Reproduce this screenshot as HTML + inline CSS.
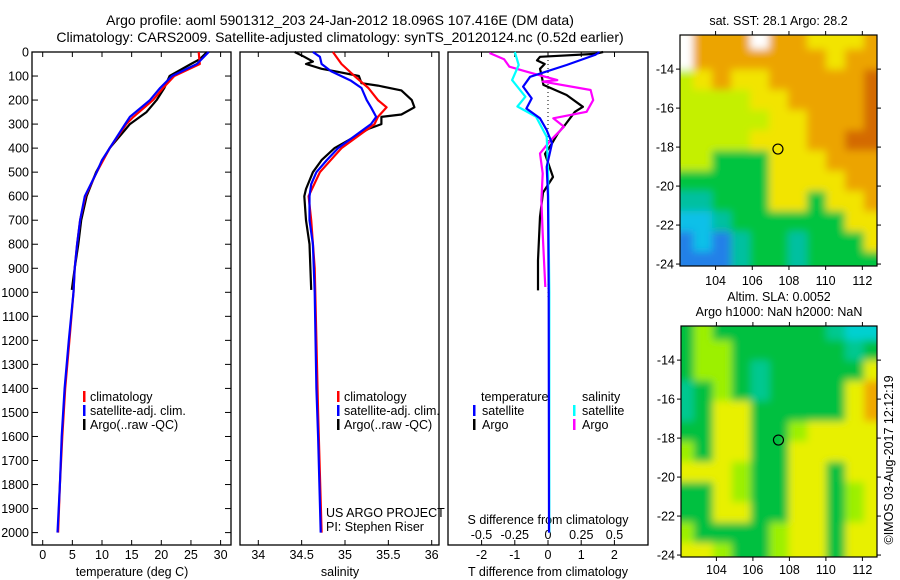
<!DOCTYPE html>
<html><head><meta charset="utf-8">
<style>
html,body{margin:0;padding:0;background:#fff;}
svg{display:block;font-family:"Liberation Sans",sans-serif;}
text{font-size:12.5px;fill:#000;}
</style></head><body>
<svg id="chart" width="900" height="580" viewBox="0 0 900 580" xmlns="http://www.w3.org/2000/svg">
<defs><filter id="blur" filterUnits="userSpaceOnUse" x="600" y="0" width="300" height="580"><feGaussianBlur stdDeviation="4"/></filter>
<clipPath id="clipM1"><rect x="680" y="35" width="197" height="231"/></clipPath>
<clipPath id="clipM2"><rect x="681" y="326" width="196" height="231"/></clipPath></defs>
<text x="340" y="25" text-anchor="middle" style="font-size:14px">Argo profile: aoml 5901312_203 24-Jan-2012 18.096S 107.416E (DM data)</text>
<text x="340" y="42" text-anchor="middle" style="font-size:14px">Climatology: CARS2009. Satellite-adjusted climatology: synTS_20120124.nc (0.52d earlier)</text>
<g id="p1"></g>
<g id="p2"></g>
<g id="p3"></g>
<g id="m1"></g>
<g id="m2"></g>
<text transform="translate(893,460) rotate(-90)" text-anchor="middle">©IMOS 03-Aug-2017 12:12:19</text>
</svg>
<script>
// ---- data ----
const depthTicks=[0,100,200,300,400,500,600,700,800,900,1000,1100,1200,1300,1400,1500,1600,1700,1800,1900,2000];
const tempTicks=[0,5,10,15,20,25,30];
const salTicks=[34,34.5,35,35.5,36];
const salTickLabels=["34","34.5","35","35.5","36"];
const tdiffTicks=[-2,-1,0,1,2];
const sdiffTicks=[-0.5,-0.25,0,0.25,0.5];
const latTicks=[-14,-16,-18,-20,-22,-24];
const lonTicks=[104,106,108,110,112];

const climTD=[0,50,100,150,200,270,300,400,500,600,700,800,900,1000,1200,1400,1600,1800,2000];
const climT=[26.3,26.5,22.2,20.3,18.6,15.3,14.1,11.3,9.1,7.2,6.3,5.8,5.4,5.2,4.5,3.8,3.3,2.9,2.6];
const satTD=[0,50,100,150,200,270,300,400,450,500,600,700,800,900,1000,1200,1400,1600,1800,2000];
const satT=[28.0,26.0,21.8,19.8,18.1,14.7,13.9,11.3,10.0,9.1,7.1,6.3,5.8,5.4,5.2,4.4,3.7,3.2,2.9,2.5];
const argoTD=[0,30,50,100,150,200,250,300,400,500,600,700,800,900,990];
const argoT=[27.7,26.5,25.0,21.4,20.5,19.2,17.5,14.7,11.3,9.0,7.4,6.5,6.0,5.4,4.9];

const climSD=[0,50,100,150,200,230,270,300,400,500,600,700,900,1500,2000];
const climS=[34.86,34.96,35.11,35.27,35.38,35.48,35.38,35.34,34.96,34.71,34.58,34.61,34.65,34.69,34.73];
const satSD=[0,20,50,80,120,150,200,230,270,300,350,400,450,500,550,600,700,800,1000,1400,1600,2000];
const satS=[34.63,34.71,34.73,34.84,35.07,35.19,35.25,35.3,35.36,35.3,35.11,34.92,34.79,34.67,34.61,34.59,34.59,34.63,34.65,34.67,34.69,34.72];
const argoSD=[0,20,40,50,70,80,100,130,140,160,200,230,260,270,300,320,400,450,500,570,600,700,800,990];
const argoS=[34.42,34.53,34.63,34.55,34.73,34.88,35.16,35.19,35.38,35.65,35.77,35.8,35.65,35.42,35.42,35.27,34.88,34.73,34.63,34.55,34.53,34.55,34.59,34.61];

const argoDTD=[0,8,20,35,50,70,100,137,179,228,249,304,338,380,424,520,585,686,867,992];
const argoDT=[1.66,1.42,-0.24,-0.33,-0.1,-0.24,-0.19,-0.14,0.56,1.05,0.81,0.51,0.3,0.12,-0.09,0.15,-0.15,-0.24,-0.3,-0.3];
const satDTD=[0,12,54,103,144,193,235,276,325,380,478,600,1000,2000];
const satDT=[1.55,1.42,0.56,-0.54,-0.75,-0.49,-0.65,-0.24,-0.04,0.12,-0.04,0.0,0.02,0.03];
const satDSD=[0,54,117,186,227,269,353,480,1000,2000];
const satDS=[-0.25,-0.22,-0.27,-0.17,-0.23,-0.09,-0.01,0.0,0.01,0.01];
const argoDSD=[4,30,61,82,117,123,158,200,249,276,311,367,422,505,617,756,978];
const argoDS=[-0.44,-0.33,-0.29,-0.16,0.07,-0.04,0.32,0.34,0.29,0.04,0.12,0.02,-0.06,-0.04,-0.05,-0.04,-0.02];

// map colour grids (rows: lat -12.4 -> -24, cols: lon 102 -> 113)
const sstGrid=["WOOOWOOYYYO","WOOOOOOOYOO","LYOYYOOOOOD","LLLLYYOOOOD","LLLLLYYOOOD","LLLLYYYOODD","LLGGGYYYOOO","GGGGGYYYYOO","TTGGGYYGYYO","CCTGGGGGGYY","BCBTGGTGGGY","BBBTGGTGGGG"];
const slaGrid=["GLGGGGGGTCC","GLLGGGGGGTG","GLLGTGGGGGY","TGLGTGGGGYO","TGYYGGGGGYO","GGYYGGLYYYY","LGYYGGYYYYY","YYYLGGYYGYY","GGYLGGYYGLY","GGYYGGYYGLY","LGGGGLYYGYY","YYLGGLYYGYY"];
const argoLon=107.4, argoLat=-18.1;

// ---- helpers ----
const NS="http://www.w3.org/2000/svg";
function el(tag,attrs,parent){const e=document.createElementNS(NS,tag);for(const k in attrs)e.setAttribute(k,attrs[k]);parent.appendChild(e);return e;}
const yD=d=>52+d*0.2403;
const xT=t=>42.7+t*5.93;
const xS=s=>258.3+(s-34)*86.7;
const xDT=v=>548+v*33.2;
const xDS=v=>548+v*133;

function frame(g,x0,x1,name){const r=el('rect',{x:x0,y:52,width:x1-x0,height:493,fill:'none',stroke:'#000','stroke-width':1.3},g);}
function line(g,xs,ds,fx,color,name){
  const pts=xs.map((v,i)=>fx(v).toFixed(1)+','+yD(ds[i]).toFixed(1)).join(' ');
  const p=el('polyline',{points:pts,fill:'none',stroke:color,'stroke-width':2.2,'stroke-linejoin':'round'},g);
  
  
}
function txt(g,x,y,s,anchor,name){const t=el('text',{x:x,y:y,'text-anchor':anchor||'start'},g);t.textContent=s;return t;}

// ---- panel 1 ----
const p1=document.getElementById('p1');
frame(p1,32,231,'temperature-axes-frame');
depthTicks.forEach(d=>{
  el('line',{x1:32,x2:38,y1:yD(d),y2:yD(d),stroke:'#000'},p1);
  el('line',{x1:225,x2:231,y1:yD(d),y2:yD(d),stroke:'#000'},p1);
  txt(p1,29,yD(d)+4.5,String(d),'end','depth-tick-label');
});
tempTicks.forEach(t=>{
  el('line',{x1:xT(t),x2:xT(t),y1:545,y2:540,stroke:'#000'},p1);
  el('line',{x1:xT(t),x2:xT(t),y1:52,y2:57,stroke:'#000'},p1);
  txt(p1,xT(t),559,String(t),'middle','temperature-tick-label');
});
txt(p1,132,576,'temperature (deg C)','middle','temperature-axis-title');
line(p1,argoT,argoTD,xT,'#000','argo-temperature-line');
line(p1,climT,climTD,xT,'#f00','climatology-temperature-line');
line(p1,satT,satTD,xT,'#00f','satellite-temperature-line');
[['climatology','#f00'],['satellite-adj. clim.','#00f'],['Argo(..raw -QC)','#000']].forEach((l,i)=>{
  el('rect',{x:83,y:391+i*14,width:2.5,height:11,fill:l[1]},p1);
  txt(p1,90,401+i*14,l[0],'start','temperature-legend-entry');
});

// ---- panel 2 ----
const p2=document.getElementById('p2');
frame(p2,240,439,'salinity-axes-frame');
salTicks.forEach((s,i)=>{
  el('line',{x1:xS(s),x2:xS(s),y1:545,y2:540,stroke:'#000'},p2);
  el('line',{x1:xS(s),x2:xS(s),y1:52,y2:57,stroke:'#000'},p2);
  txt(p2,xS(s),559,salTickLabels[i],'middle','salinity-tick-label');
});
txt(p2,340,576,'salinity','middle','salinity-axis-title');
line(p2,argoS,argoSD,xS,'#000','argo-salinity-line');
line(p2,climS,climSD,xS,'#f00','climatology-salinity-line');
line(p2,satS,satSD,xS,'#00f','satellite-salinity-line');
[['climatology','#f00'],['satellite-adj. clim.','#00f'],['Argo(..raw -QC)','#000']].forEach((l,i)=>{
  el('rect',{x:337,y:391+i*14,width:2.5,height:11,fill:l[1]},p2);
  txt(p2,344,401+i*14,l[0],'start','salinity-legend-entry');
});
txt(p2,326,517,'US ARGO PROJECT','start','project-label');
txt(p2,326,531,'PI: Stephen Riser','start','pi-label');

// ---- panel 3 ----
const p3=document.getElementById('p3');
frame(p3,448,648,'difference-axes-frame');
el('line',{x1:548,x2:548,y1:52,y2:300,stroke:'#000','stroke-dasharray':'1,3'},p3);
tdiffTicks.forEach(v=>{
  el('line',{x1:xDT(v),x2:xDT(v),y1:545,y2:540,stroke:'#000'},p3);
  txt(p3,xDT(v),559,String(v),'middle','t-difference-tick-label');
});
sdiffTicks.forEach(v=>{
  el('line',{x1:xDS(v),x2:xDS(v),y1:52,y2:57,stroke:'#000'},p3);
  txt(p3,xDS(v),539,String(v),'middle','s-difference-tick-label');
});
txt(p3,548,524,'S difference from climatology','middle','s-difference-axis-title');
txt(p3,548,576,'T difference from climatology','middle','t-difference-axis-title');
line(p3,argoDT,argoDTD,xDT,'#000','argo-t-difference-line');
line(p3,argoDS,argoDSD,xDS,'#f0f','argo-s-difference-line');
line(p3,satDS,satDSD,xDS,'#0ff','satellite-s-difference-line');
line(p3,satDT,satDTD,xDT,'#00f','satellite-t-difference-line');
txt(p3,481,401,'temperature','start','legend-temperature-header');
txt(p3,582,401,'salinity','start','legend-salinity-header');
[['satellite','#00f',473],['Argo','#000',473],['satellite','#0ff',573],['Argo','#f0f',573]].forEach((l,i)=>{
  const row=i%2;
  el('rect',{x:l[2],y:405+row*14,width:2.5,height:11,fill:l[1]},p3);
  txt(p3,l[2]+9,415+row*14,l[0],'start','difference-legend-entry');
});

// ---- maps ----
const sstColors={W:'#ffffff',O:'#eca400',D:'#d46a00',Y:'#f2e400',L:'#c4f000',G:'#00c440',T:'#00c0a0',C:'#10c0e8',B:'#2080e8'};
const slaColors={G:'#00c040',L:'#9cf000',Y:'#e8f000',T:'#00c890',C:'#00d0d0',O:'#f0a800'};
function drawMap(gid,x0,y0,w,h,grid,colors,clip,name,titleLines,labelY){
  const g=document.getElementById(gid);
  const lonMin=102.06,lonMax=112.8,latTop=-12.25,latBot=-24.1;
  const X=lon=>x0+(lon-lonMin)/(lonMax-lonMin)*w;
  const Y=lat=>y0+(latTop-lat)/(latTop-latBot)*h;
  const cg=el('g',{'clip-path':'url(#'+clip+')'},g);
  el('rect',{x:x0,y:y0,width:w,height:h,fill:colors[grid[5][5]]},cg);
  const bg=el('g',{filter:'url(#blur)'},cg);
  const rows=grid.length,cols=grid[0].length;
  grid.forEach((row,r)=>{row.split('').forEach((c,k)=>{
    const cell=el('rect',{x:x0-6+k*(w+12)/cols,y:y0-6+r*(h+12)/rows,width:(w+12)/cols+1,height:(h+12)/rows+1,fill:colors[c]},bg);
    
    
  });});
  const f=el('rect',{x:x0,y:y0,width:w,height:h,fill:'none',stroke:'#000','stroke-width':1.2},g);
  
  const c=el('circle',{cx:X(argoLon),cy:Y(argoLat),r:5,fill:'none',stroke:'#000','stroke-width':1.2},g);
  
  
  latTicks.forEach(l=>{
    el('line',{x1:x0-4,x2:x0,y1:Y(l),y2:Y(l),stroke:'#000'},g);
    el('line',{x1:x0+w,x2:x0+w+4,y1:Y(l),y2:Y(l),stroke:'#000'},g);
    txt(g,x0-6,Y(l)+4.5,String(l),'end','latitude-tick-label');
  });
  lonTicks.forEach(l=>{
    el('line',{x1:X(l),x2:X(l),y1:y0-4,y2:y0,stroke:'#000'},g);
    el('line',{x1:X(l),x2:X(l),y1:y0+h,y2:y0+h+4,stroke:'#000'},g);
    txt(g,X(l),labelY,String(l),'middle','longitude-tick-label');
  });
  titleLines.forEach((t,i)=>txt(g,x0+w/2,t[1],t[0],'middle',name+'-title'));
}
drawMap('m1',680,35,197,231,sstGrid,sstColors,'clipM1','sst-map',[['sat. SST: 28.1  Argo: 28.2',25]],285);
drawMap('m2',681,326,196,231,slaGrid,slaColors,'clipM2','sla-map',[['Altim. SLA: 0.0052',301],['Argo h1000: NaN h2000: NaN',316]],574);
</script>
</body></html>
